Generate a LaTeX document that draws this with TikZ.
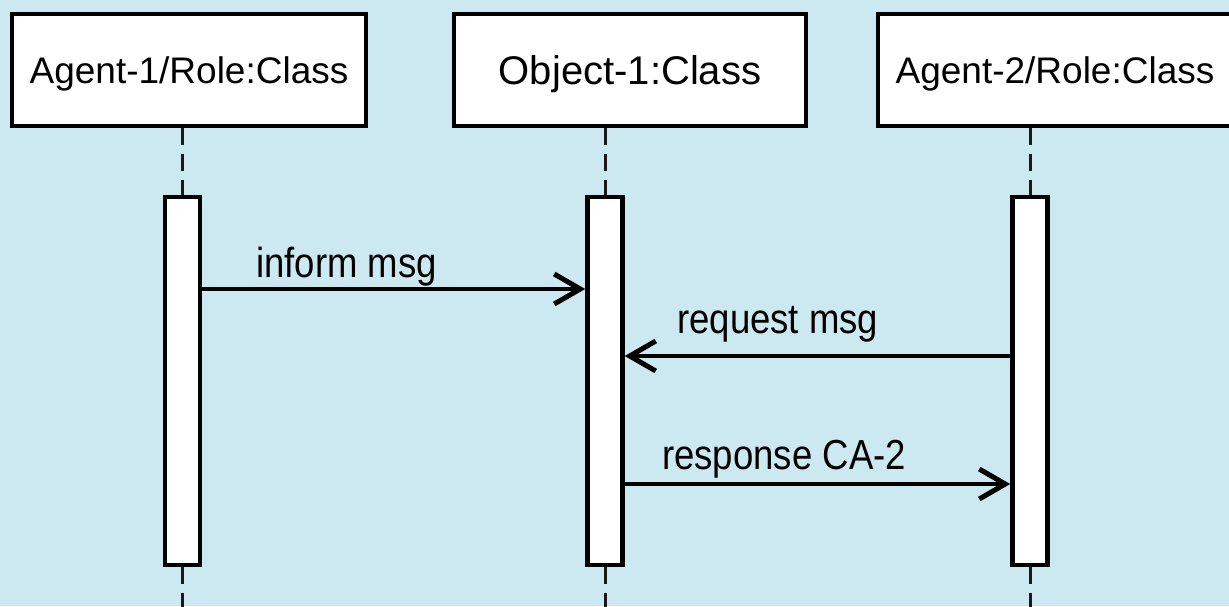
\documentclass[tikz,border=0pt]{standalone}
\usepackage{fontspec}
\setmainfont{Liberation Sans}
\newfontfamily\msgfont{Liberation Sans}[FakeStretch=0.87]
\usetikzlibrary{arrows.meta}
\definecolor{bgblue}{RGB}{204,232,240}
\tikzset{
  headbox/.style={draw=black, fill=white, line width=4pt, minimum height=112pt, inner sep=0pt, text depth=0pt},
  actbar/.style={draw=black, fill=white, line width=4.5pt, minimum width=35pt, minimum height=368pt, inner sep=0pt},
  lifeline/.style={draw=black!90, line width=3pt, dash pattern=on 17pt off 9pt},
  msgline/.style={draw=black, line width=4pt, -{Straight Barb[length=26pt, width=30pt, line width=5pt]}},
  msglabel/.style={anchor=base west, inner sep=0pt, font=\msgfont\fontsize{42}{46}\selectfont}
}
\begin{document}
\begin{tikzpicture}[x=1pt, y=-1pt]
\useasboundingbox (0,0) rectangle (1229,606);
\fill[bgblue] (0,0) rectangle (1229,606);
% lifeline heads
\node[headbox, minimum width=354pt, text height=26.5pt, font=\fontsize{37}{41}\selectfont] (h1) at (189,70) {Agent-1/Role:Class};
\node[headbox, minimum width=352pt, text height=28.5pt, font=\fontsize{40}{44}\selectfont] (h2) at (630,70) {Object-1:Class};
\node[headbox, minimum width=354pt, text height=26.5pt, font=\fontsize{37}{41}\selectfont] (h3) at (1055,70) {Agent-2/Role:Class};
% activation bars
\node[actbar] (b1) at (182.5,381) {};
\node[actbar] (b2) at (605,381) {};
\node[actbar] (b3) at (1030,381) {};
% lifelines
\coordinate (e1) at (182.5,615);
\coordinate (e2) at (605,615);
\coordinate (e3) at (1030,615);
\draw[lifeline] (b1.north |- h1.south) -- (b1.north);
\draw[lifeline] (b2.north |- h2.south) -- (b2.north);
\draw[lifeline] (b3.north |- h3.south) -- (b3.north);
\draw[lifeline] (b1.south) -- (e1);
\draw[lifeline] (b2.south) -- (e2);
\draw[lifeline] (b3.south) -- (e3);
% messages
\draw[msgline] (b1.east |- 0,289) -- (b2.west |- 0,289);
\draw[msgline] (b3.west |- 0,356) -- (b2.east |- 0,356);
\draw[msgline] (b2.east |- 0,484) -- (b3.west |- 0,484);
\node[msglabel] (l1) at (256,277) {inform msg};
\node[msglabel] (l2) at (677,333) {request msg};
\node[msglabel] (l3) at (662,469) {response CA-2};
\end{tikzpicture}
\end{document}
